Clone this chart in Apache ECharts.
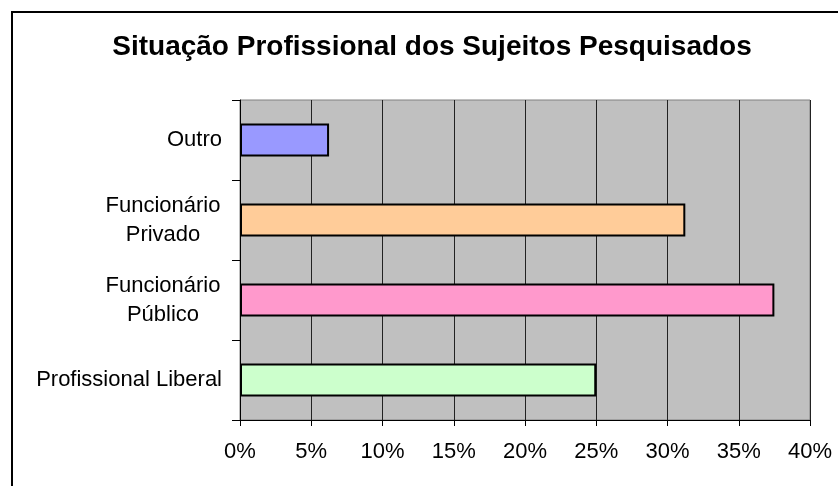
<!DOCTYPE html>
<html>
<head>
<meta charset="utf-8">
<script src="https://cdn.jsdelivr.net/npm/echarts@6/dist/echarts.min.js"></script>
<style>
    html, body { margin: 0; padding: 0; background: #fff; }
    #echart { width: 838px; height: 486px; }
</style>
</head>
<body>
<div id="echart"></div>
<script>
// categories from top to bottom
const CategoryList = ['Outro', 'Funcionário\nPrivado', 'Funcionário\nPúblico', 'Profissional Liberal'];
const ValueList = [0.0625, 0.3125, 0.375, 0.25];
const ColorList = ['#9999FF', '#FFCC99', '#FF99CC', '#CCFFCC'];
const TickList = ['0%', '5%', '10%', '15%', '20%', '25%', '30%', '35%', '40%'];

function render_chart() {
    const barData = ValueList.map(function (v, i) {
        return {value: v, itemStyle: {color: ColorList[i]}};
    });

    var option = {
        animation: false,
        textStyle: {fontFamily: 'Liberation Sans, Arial, sans-serif'},
        graphic: [{
            type: 'rect',
            shape: {x: 12, y: 12, width: 900, height: 900},
            style: {fill: 'none', stroke: '#000', lineWidth: 2}
        }, {
            type: 'text',
            x: 432,
            y: 47,
            style: {
                text: 'Situação Profissional dos Sujeitos Pesquisados',
                textAlign: 'center',
                textVerticalAlign: 'middle',
                font: 'bold 28px "Liberation Sans", Arial, sans-serif',
                fill: '#000'
            }
        }],
        grid: {
            left: 240,
            right: 28,
            top: 100,
            bottom: 66,
            show: true,
            backgroundColor: '#C0C0C0',
            borderColor: '#808080',
            borderWidth: 1
        },
        xAxis: {
            type: 'value',
            min: 0,
            max: 0.4,
            interval: 0.05,
            axisLine: {show: true, lineStyle: {color: '#000', width: 1}},
            axisTick: {show: true, length: 6, lineStyle: {color: '#000'}},
            splitLine: {show: true, lineStyle: {color: '#222', width: 1}},
            axisLabel: {
                fontSize: 22,
                color: '#000',
                margin: 21,
                formatter: function (v) {
                    return TickList[Math.round(v / 0.05)];
                }
            }
        },
        yAxis: {
            type: 'category',
            inverse: true,
            data: CategoryList,
            axisLine: {show: true, lineStyle: {color: '#000', width: 1}},
            axisTick: {show: true, length: 8, lineStyle: {color: '#000'}},
            axisLabel: {
                fontSize: 22,
                color: '#000',
                margin: 18,
                lineHeight: 29,
                formatter: function (v) {
                    if (v.indexOf('\n') < 0) return v;
                    return v.split('\n').map(function (s) { return '{c|' + s + '}'; }).join('\n');
                },
                rich: {
                    c: {width: 118, align: 'center', fontSize: 22, lineHeight: 29, color: '#000'}
                }
            }
        },
        series: [{
            type: 'bar',
            data: barData,
            barWidth: 33,
            itemStyle: {borderColor: '#000', borderWidth: 2}
        }]
    };

    var barChart = echarts.init(document.getElementById('echart'));
    barChart.setOption(option);
}

render_chart();
</script>
</body>
</html>
